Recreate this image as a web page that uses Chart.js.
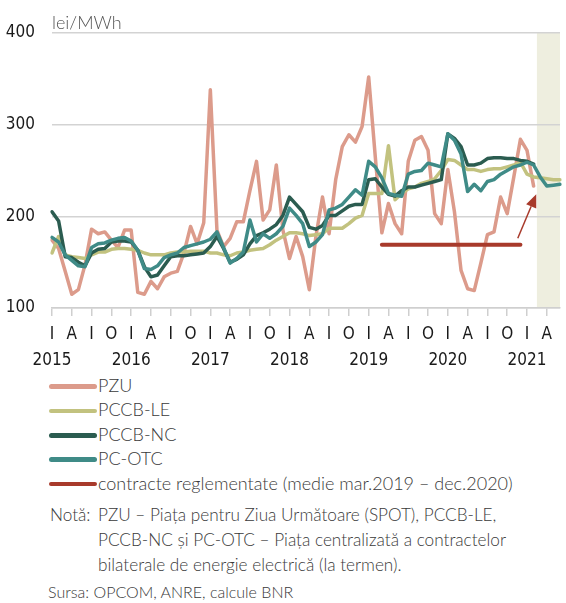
<!DOCTYPE html>
<html>
<head>
<meta charset="utf-8">
<script src="https://cdn.jsdelivr.net/npm/chart.js@4.4.1/dist/chart.umd.min.js"></script>
<style>
  body { margin: 0; background: #fff; width: 566px; height: 603px; position: relative; overflow: hidden; }
  #wrap { position: absolute; left: 0; top: 0; width: 566px; height: 372px; }
  #legend { position: absolute; left: 49px; top: 373px; font-family: Lato, "Open Sans", sans-serif; font-weight: 300; font-size: 18px; color: #3a3a3a; }
  #legend div { height: 24.4px; line-height: 24.4px; white-space: nowrap; }
  #legend span { display: inline-block; width: 48px; height: 4.5px; border-radius: 3px; vertical-align: middle; margin-right: 1px; position: relative; top: -1px; }
  #note { position: absolute; left: 50px; top: 502px; font-family: Lato, "Open Sans", sans-serif; font-weight: 300; font-size: 17.2px; color: #3a3a3a; line-height: 25px; display: flex; }
  #note .lab { width: 48px; }
  #src { position: absolute; left: 48px; top: 582px; font-family: Lato, "Open Sans", sans-serif; font-weight: 300; font-size: 16px; color: #3a3a3a; line-height: 20px; }
</style>
</head>
<body>
<div id="wrap"><canvas id="chart" width="566" height="372"></canvas></div>
<div id="legend"></div>
<div id="note"><div class="lab">Notă:</div><div>PZU – Piața pentru Ziua Următoare (SPOT), PCCB-LE,<br>PCCB-NC și PC-OTC – Piața centralizată a contractelor<br>bilaterale de energie electrică (la termen).</div></div>
<div id="src">Sursa: OPCOM, ANRE, calcule BNR</div>
<script>
// luni: ian. 2015 - iun. 2021
let years = ["2015", "2016", "2017", "2018", "2019", "2020", "2021"];
let quarterLetters = ["I", "A", "I", "O"];
let months = [];
for (let y of years) {
  for (let m = 1; m <= 12; m++) {
    if (y === "2021" && m > 6) break;
    months.push(y + "-" + ("0" + m).substr(-2));
  }
}

// lei/MWh
let pzu = [
  174, 165, 140, 115, 120, 147, 186, 181, 183, 174, 166, 185,
  185, 117, 115, 129, 121, 134, 138, 140, 160, 189, 170, 193,
  338, 185, 167, 176, 194, 194, 228, 260, 196, 207, 256, 185,
  154, 178, 156, 120, 178, 221, 181, 240, 276, 289, 281, 298,
  352, 265, 182, 214, 192, 181, 260, 283, 287, 272, 203, 192,
  251, 205, 141, 121, 119, 149, 180, 183, 221, 203, 243, 284,
  272, 233, null, null, null, null,
];
let pccbLE = [
  160, 178, 158, 156, 155, 154, 158, 161, 161, 164, 165, 165,
  164, 163, 160, 158, 158, 158, 160, 161, 161, 162, 162, 162,
  160, 160, 158, 157, 160, 161, 163, 164, 165, 169, 174, 178,
  182, 182, 181, 179, 180, 181, 187, 187, 187, 192, 198, 201,
  225, 225, 225, 277, 218, 225, 230, 232, 236, 238, 241, 250,
  262, 261, 256, 251, 251, 249, 251, 252, 252, 254, 256, 259,
  246, 243, 242, 241, 240, 240,
];
let pccbNC = [
  205, 195, 156, 155, 150, 146, 160, 164, 165, 172, 173, 173,
  172, 163, 145, 134, 136, 146, 156, 157, 157, 158, 159, 160,
  167, 178, 165, 150, 153, 158, 170, 179, 182, 186, 191, 201,
  221, 213, 205, 188, 186, 190, 201, 201, 206, 211, 213, 213,
  240, 241, 232, 224, 222, 228, 232, 232, 234, 236, 238, 240,
  290, 285, 276, 256, 256, 258, 263, 264, 264, 263, 263, 261,
  260, 257, null, null, null, null,
];
let pcOTC = [
  177, 172, 158, 152, 146, 145, 166, 170, 171, 174, 176, 177,
  173, 163, 143, 142, 146, 155, 158, 160, 166, 168, 170, 172,
  175, 183, 166, 149, 154, 161, 196, 172, 181, 176, 181, 189,
  209, 201, 192, 167, 172, 180, 207, 209, 213, 221, 229, 223,
  260, 254, 242, 225, 223, 222, 246, 249, 250, 258, 256, 254,
  290, 283, 268, 227, 235, 228, 238, 240, 246, 250, 254, 256,
  259, 256, 243, 233, 234, 235,
];
// contracte reglementate, medie mar.2019 - dec.2020
let regValue = 169;
let regPeriod = ["2019-03", "2020-12"];
let regulated = months.map((m) =>
  m >= regPeriod[0] && m <= regPeriod[1] ? regValue : null
);

// zona umbrita (dupa feb. 2021) si sageata
let shadeAfter = "2021-02";
let arrowFrom = { month: 70.6, value: 176 };
let arrowTo = { month: 73.4, value: 224 };

let seriesNames = [
  "PZU",
  "PCCB-LE",
  "PCCB-NC",
  "PC-OTC",
  "contracte reglementate (medie mar.2019 – dec.2020)",
];
let seriesColors = ["#dc9b8b", "#c2c27f", "#2b5c50", "#3f8b87", "#a83a2b"];
let seriesData = [pzu, pccbLE, pccbNC, pcOTC, regulated];
let drawOrder = [4, 3, 2, 1, 0];

const axisFont = { family: "'Liberation Sans Narrow', 'DejaVu Sans Condensed', sans-serif", size: 17 };

const shadePlugin = {
  id: "shade",
  beforeDraw(chart) {
    const { ctx, chartArea, scales } = chart;
    let x0 = scales.x.getPixelForValue(months.indexOf(shadeAfter) + 0.5);
    ctx.save();
    ctx.fillStyle = "#eeeedf";
    ctx.fillRect(x0, chartArea.top, chartArea.right - x0, chartArea.bottom - chartArea.top);
    ctx.restore();
  },
};

const textPlugin = {
  id: "extras",
  afterDraw(chart) {
    const { ctx, chartArea, scales } = chart;
    ctx.save();
    ctx.fillStyle = "#555";
    ctx.font = "300 18px Lato, 'Open Sans', sans-serif";
    ctx.textBaseline = "alphabetic";
    ctx.fillText("lei/MWh", chartArea.left, 29);

    // sageata
    let x1 = scales.x.getPixelForValue(arrowFrom.month);
    let y1 = scales.y.getPixelForValue(arrowFrom.value);
    let x2 = scales.x.getPixelForValue(arrowTo.month);
    let y2 = scales.y.getPixelForValue(arrowTo.value);
    let ang = Math.atan2(y2 - y1, x2 - x1);
    let len = 13;
    let bx = x2 - len * Math.cos(ang);
    let by = y2 - len * Math.sin(ang);
    ctx.strokeStyle = "#a83a2b";
    ctx.fillStyle = "#a83a2b";
    ctx.lineWidth = 1.5;
    ctx.beginPath();
    ctx.moveTo(x1, y1);
    ctx.lineTo(bx, by);
    ctx.stroke();
    ctx.beginPath();
    ctx.moveTo(x2, y2);
    ctx.lineTo(bx + 5.5 * Math.sin(ang), by - 5.5 * Math.cos(ang));
    ctx.lineTo(bx - 5.5 * Math.sin(ang), by + 5.5 * Math.cos(ang));
    ctx.closePath();
    ctx.fill();
    ctx.restore();
  },
};

let chart = new Chart(document.getElementById("chart"), {
  type: "line",
  data: {
    labels: months,
    datasets: seriesNames.map((name, i) => ({
      label: name,
      data: seriesData[i],
      borderColor: seriesColors[i],
      backgroundColor: seriesColors[i],
      borderWidth: i === 4 ? 4 : 3.5,
      borderJoinStyle: "round",
      borderCapStyle: "round",
      pointRadius: 0,
      tension: 0,
      spanGaps: false,
      order: drawOrder[i],
    })),
  },
  options: {
    responsive: false,
    animation: false,
    devicePixelRatio: 1,
    layout: { padding: { top: 33, right: 3.5, left: 0, bottom: 0 } },
    plugins: {
      legend: { display: false },
      tooltip: { enabled: false },
    },
    scales: {
      x: {
        offset: false,
        afterFit(scale) {
          scale.height = 64;
        },
        border: { display: true, color: "#cfcfcf", width: 1.5 },
        grid: {
          drawOnChartArea: false,
          drawTicks: true,
          tickLength: 8,
          lineWidth: 1.5,
          color: (c) => (c.index % 3 === 0 ? "#cfcfcf" : "rgba(0,0,0,0)"),
        },
        ticks: {
          autoSkip: false,
          maxRotation: 0,
          minRotation: 0,
          padding: 6,
          color: "#1a1a1a",
          font: { ...axisFont, lineHeight: 1.5 },
          callback: function (val, idx) {
            if (idx % 3 !== 0) return "";
            let q = quarterLetters[(idx % 12) / 3];
            if (idx % 12 === 0) return [q, months[idx].slice(0, 4)];
            return q;
          },
        },
      },
      y: {
        min: 100,
        max: 400,
        afterFit(scale) {
          scale.width = 52;
        },
        border: { display: false },
        grid: { color: "#d3d3d3", lineWidth: 1.5, drawTicks: false },
        ticks: {
          stepSize: 100,
          padding: 17,
          color: "#1a1a1a",
          font: axisFont,
        },
      },
    },
  },
  plugins: [shadePlugin, textPlugin],
});

// legenda
let legend = document.getElementById("legend");
chart.data.datasets.forEach((ds) => {
  let row = document.createElement("div");
  let sw = document.createElement("span");
  sw.style.background = ds.borderColor;
  row.appendChild(sw);
  row.appendChild(document.createTextNode(ds.label));
  legend.appendChild(row);
});
</script>
</body>
</html>
